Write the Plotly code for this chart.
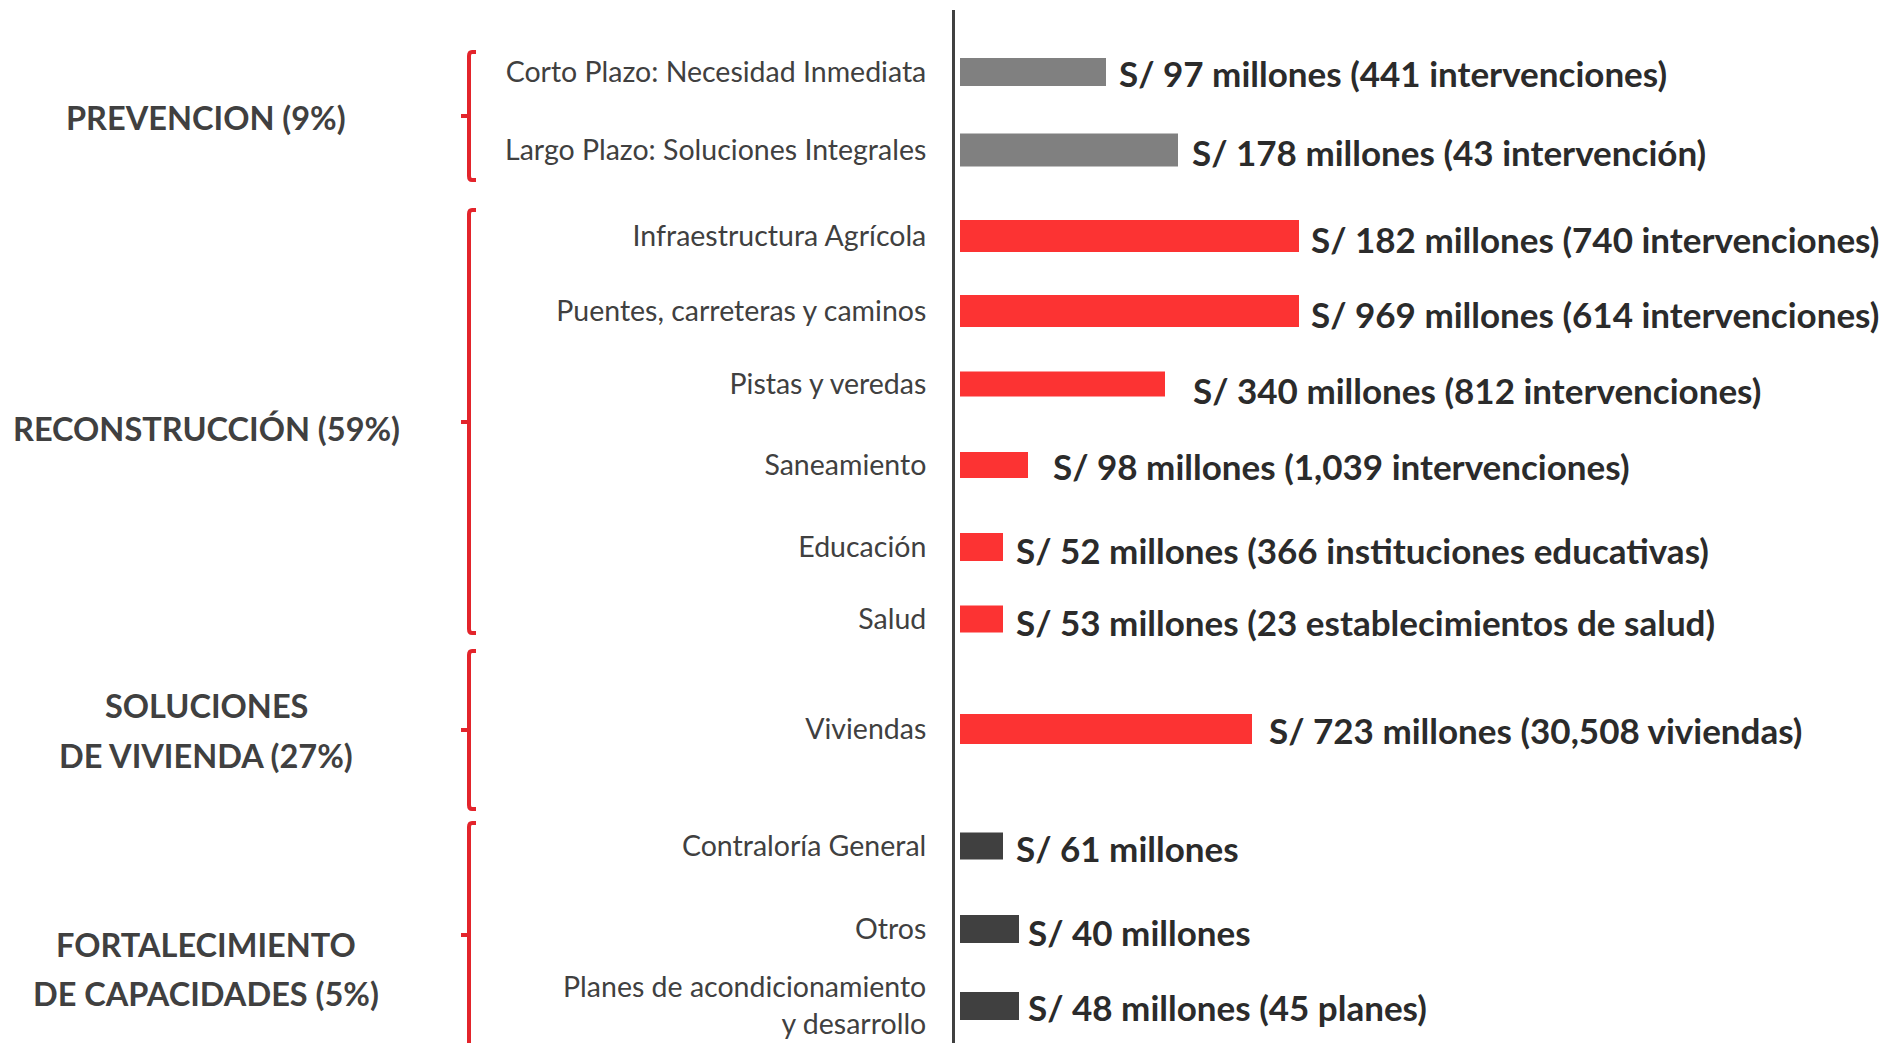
import plotly.graph_objects as go

# ---------------- data ----------------
categories = [
    "Corto Plazo: Necesidad Inmediata",
    "Largo Plazo: Soluciones Integrales",
    "Infraestructura Agrícola",
    "Puentes, carreteras y caminos",
    "Pistas y veredas",
    "Saneamiento",
    "Educación",
    "Salud",
    "Viviendas",
    "Contraloría General",
    "Otros",
    "Planes de acondicionamiento<br>y desarrollo",
]
# visual bar lengths (arbitrary units)
bar_length = [146, 218, 339, 339, 205, 68, 43, 43, 292, 43, 59, 59]
value_labels = [
    "S/ 97 millones (441 intervenciones)",
    "S/ 178 millones (43 intervención)",
    "S/ 182 millones (740 intervenciones)",
    "S/ 969 millones (614 intervenciones)",
    "S/ 340 millones (812 intervenciones)",
    "S/ 98 millones (1,039 intervenciones)",
    "S/ 52 millones (366 instituciones educativas)",
    "S/ 53 millones (23 establecimientos de salud)",
    "S/ 723 millones (30,508 viviendas)",
    "S/ 61 millones",
    "S/ 40 millones",
    "S/ 48 millones (45 planes)",
]
group_of = [0, 0, 1, 1, 1, 1, 1, 1, 2, 3, 3, 3]
group_label_lines = [
    ["PREVENCION (9%)"],
    ["RECONSTRUCCIÓN (59%)"],
    ["SOLUCIONES", "DE VIVIENDA (27%)"],
    ["FORTALECIMIENTO", "DE CAPACIDADES (5%)"],
]

# ---------------- layout / style ----------------
FIG_W, FIG_H = 1880, 1043
L, T = 955, 10
PW, PH = FIG_W - L, FIG_H - T
row_y = [72, 150, 236, 311, 384, 465, 547, 619, 729, 846, 929, 1006]
bar_thick = [28, 33, 32, 32, 25, 26, 28, 27, 30, 27, 28, 28]
label_gap = [11, 12, 10, 10, 26, 23, 11, 11, 15, 11, 7, 7]
label_dy = [-1, -2, -3, -3, -6, -1, -3, -3, -1, -2, -3, -1]   # pixel nudges (negative = down)
group_colors = ["#808080", "#FC3333", "#FC3333", "#404040"]
group_line_y = [[117], [428], [705, 755], [944, 993]]
brackets = [(52, 180, 116), (210, 633, 422), (651, 809, 730), (823, 1060, 935)]
BR_RED = "#E3242B"
TXT = "#404040"
FONT = "Lato"


def px(p):
    return (p - L) / PW


def py(p):
    return (FIG_H - p) / PH


fig = go.Figure()
fig.add_trace(go.Bar(
    x=bar_length,
    y=row_y,
    orientation="h",
    width=bar_thick,
    marker=dict(color=[group_colors[g] for g in group_of], line=dict(width=0)),
    hoverinfo="skip",
))

annotations = []
for v, y, txt, gap, dy in zip(bar_length, row_y, value_labels, label_gap, label_dy):
    annotations.append(dict(
        x=v, y=y, xref="x", yref="y", text=txt, showarrow=False,
        xanchor="left", yanchor="middle", xshift=gap, yshift=dy,
        font=dict(family=FONT, size=35, color="#2b2b2b", weight="bold"),
    ))
for lines, ys in zip(group_label_lines, group_line_y):
    for line, gy in zip(lines, ys):
        annotations.append(dict(
            x=px(206), y=gy, xref="paper", yref="y", text=line, showarrow=False,
            xanchor="center", yanchor="middle", align="center",
            font=dict(family=FONT, size=32.5, color=TXT, weight="bold"),
        ))

shapes = []
bx = 469
for top, bot, mid in brackets:
    path = (f"M {px(bx + 7)},{py(top)} L {px(bx + 3)},{py(top)} "
            f"Q {px(bx)},{py(top)} {px(bx)},{py(top + 4)} "
            f"L {px(bx)},{py(bot - 4)} Q {px(bx)},{py(bot)} {px(bx + 3)},{py(bot)} "
            f"L {px(bx + 7)},{py(bot)}")
    shapes.append(dict(type="path", xref="paper", yref="paper", path=path,
                       line=dict(color=BR_RED, width=4)))
    shapes.append(dict(type="line", xref="paper", yref="paper",
                       x0=px(bx - 8), x1=px(bx), y0=py(mid), y1=py(mid),
                       line=dict(color=BR_RED, width=4)))

fig.update_layout(
    width=FIG_W, height=FIG_H,
    margin=dict(l=L, r=0, t=T, b=0, pad=0),
    paper_bgcolor="white", plot_bgcolor="white",
    showlegend=False,
    font=dict(family=FONT, color=TXT),
    xaxis=dict(range=[-5, PW - 5], visible=False, fixedrange=True),
    yaxis=dict(
        range=[FIG_H, T], tickmode="array", tickvals=row_y, ticktext=categories,
        showgrid=False, zeroline=False, showline=True, linecolor="#404040",
        linewidth=3, ticks="", ticklabelstandoff=20,
        tickfont=dict(family=FONT, size=28.5, color=TXT), fixedrange=True,
    ),
    annotations=annotations,
    shapes=shapes,
)

fig.write_html("out.html", config={"displayModeBar": False},
               post_script="document.body.style.margin='0';document.body.style.overflow='hidden';")
